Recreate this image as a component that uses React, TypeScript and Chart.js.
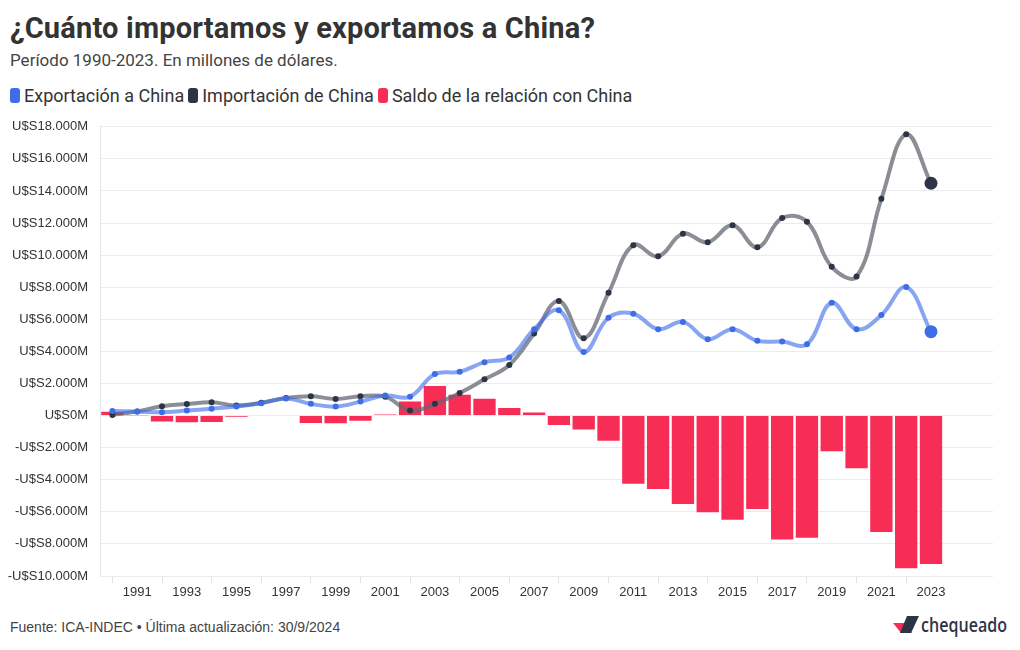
import React, { useEffect, useRef } from 'react';
import { Chart, registerables } from 'chart.js';

Chart.register(...registerables);

const years = [
  '1990', '1991', '1992', '1993', '1994', '1995', '1996', '1997', '1998', '1999',
  '2000', '2001', '2002', '2003', '2004', '2005', '2006', '2007', '2008', '2009',
  '2010', '2011', '2012', '2013', '2014', '2015', '2016', '2017', '2018', '2019',
  '2020', '2021', '2022', '2023', '2024', '2025',
];

const exportsToChina = [
  280, 250, 210, 310, 430, 560, 770, 1070, 730, 560,
  870, 1250, 1180, 2590, 2730, 3330, 3620, 5380, 6560, 3970,
  6100, 6350, 5380, 5840, 4760, 5380, 4660, 4610, 4450, 7030,
  5380, 6270, 8010, 5230,
];

const importsFromChina = [
  40, 250, 580, 720, 830, 630, 800, 1090, 1200, 1040,
  1200, 1180, 310, 730, 1410, 2260, 3150, 5110, 7140, 4820,
  7650, 10620, 9930, 11340, 10800, 11860, 10490, 12310, 12080, 9270,
  8670, 13510, 17530, 14480,
];

const balance = [
  240, -15, -370, -410, -400, -70, -30, -20, -470, -480,
  -330, 70, 870, 1840, 1300, 1050, 470, 190, -580, -870,
  -1570, -4250, -4570, -5510, -6030, -6490, -5830, -7720, -7620, -2230,
  -3290, -7250, -9520, -9250,
];

const seriesNames = ['Exportación a China', 'Importación de China', 'Saldo de la relación con China'];
const seriesColors = ['#3d6ee8', '#2c3446', '#f72d55'];

const fmtThousands = (v: number) => String(v).replace(/\B(?=(\d{3})+(?!\d))/g, '.');
const fmtMoney = (v: number) => (v < 0 ? '-U$S' + fmtThousands(-v) + 'M' : 'U$S' + fmtThousands(v) + 'M');

export default function App() {
  const ref = useRef<HTMLCanvasElement | null>(null);

  useEffect(() => {
    if (!ref.current) return;
    const last = exportsToChina.length - 1;
    const chart = new Chart(ref.current, {
      type: 'bar',
      data: {
        labels: years,
        datasets: [
          {
            type: 'line',
            label: seriesNames[0],
            data: exportsToChina,
            borderColor: 'rgba(61,110,232,0.62)',
            borderWidth: 4,
            tension: 0.4,
            pointRadius: (c: any) => (c.dataIndex === last ? 6.5 : 3),
            pointBackgroundColor: seriesColors[0],
            pointBorderWidth: 0,
            order: 1,
          } as any,
          {
            type: 'line',
            label: seriesNames[1],
            data: importsFromChina,
            borderColor: 'rgba(100,104,114,0.75)',
            borderWidth: 4,
            tension: 0.4,
            pointRadius: (c: any) => (c.dataIndex === last ? 6.5 : 3),
            pointBackgroundColor: seriesColors[1],
            pointBorderWidth: 0,
            order: 2,
          } as any,
          {
            type: 'bar',
            label: seriesNames[2],
            data: balance,
            backgroundColor: seriesColors[2],
            categoryPercentage: 1,
            barPercentage: 0.9,
            order: 3,
          } as any,
        ],
      },
      options: {
        animation: false,
        responsive: false,
        devicePixelRatio: 1,
        layout: { padding: { top: 12, right: 7, left: 0, bottom: 0 } },
        plugins: { legend: { display: false }, tooltip: { enabled: false } },
        scales: {
          x: {
            type: 'category',
            offset: true,
            afterFit: (s: any) => { s.height = 34; },
            grid: {
              offset: false,
              drawOnChartArea: false,
              tickLength: 7,
              color: (c: any) => (c.index % 2 === 0 && c.index < 34 ? '#e2e2e2' : 'rgba(0,0,0,0)'),
            },
            border: { display: false },
            ticks: {
              autoSkip: false,
              maxRotation: 0,
              padding: 2,
              color: '#333',
              font: { family: 'Liberation Sans', size: 13 },
              callback: (_v: any, i: number) => {
                const y = Number(years[i]);
                return y % 2 === 1 && y <= 2023 ? years[i] : '';
              },
            },
          },
          y: {
            min: -10000,
            max: 18000,
            afterFit: (s: any) => { s.width = 100; },
            grid: { color: '#ececec', drawTicks: false },
            border: { color: '#e6e6e6' },
            ticks: {
              stepSize: 2000,
              padding: 12,
              color: '#333',
              font: { family: 'Liberation Sans', size: 13 },
              callback: (v: any) => fmtMoney(Number(v)),
            },
          },
        },
      } as any,
    });
    return () => chart.destroy();
  }, []);

  return (
    <div style={{ position: 'absolute', left: 0, top: 0, width: 1020, height: 650, background: '#fff', overflow: 'hidden' }}>
      <div style={{ position: 'absolute', left: 10, top: 10, lineHeight: '36px', fontFamily: 'Roboto', fontWeight: 700, fontSize: 29, color: '#333', whiteSpace: 'nowrap', letterSpacing: 0.2 }}>
        ¿Cuánto importamos y exportamos a China?
      </div>
      <div style={{ position: 'absolute', left: 10, top: 50, lineHeight: '20px', fontFamily: 'Roboto', fontSize: 17, color: '#444', whiteSpace: 'nowrap' }}>
        Período 1990-2023. En millones de dólares.
      </div>
      <div style={{ position: 'absolute', left: 10, top: 84, height: 22, display: 'flex', alignItems: 'center', fontFamily: 'Roboto', fontSize: 18, color: '#333', whiteSpace: 'nowrap' }}>
        {seriesNames.map((n, i) => (
          <span key={n} style={{ display: 'flex', alignItems: 'center', marginRight: 4 }}>
            <span style={{ display: 'inline-block', width: 10, height: 15, borderRadius: 3, background: seriesColors[i], marginRight: 4 }} />
            {n}
          </span>
        ))}
      </div>
      <canvas ref={ref} width={1000} height={503} style={{ position: 'absolute', left: 0, top: 107, width: 1000, height: 503 }} />
      <div style={{ position: 'absolute', left: 10, top: 617, lineHeight: '20px', fontFamily: 'Liberation Sans', fontSize: 14, color: '#444', whiteSpace: 'nowrap' }}>
        Fuente: ICA-INDEC • Última actualización: 30/9/2024
      </div>
      <svg width={125} height={30} style={{ position: 'absolute', left: 890, top: 612 }}>
        <polygon points="3,11 14,11 22,21 11,21" fill="#f72d55" />
        <polygon points="17,4 29,4 21,21 10,21" fill="#2c3446" />
        <text x={31} y={20} fontFamily="Open Sans" fontWeight={600} fontSize={19} fill="#2f3447" textLength={86} lengthAdjust="spacingAndGlyphs">chequeado</text>
      </svg>
    </div>
  );
}
